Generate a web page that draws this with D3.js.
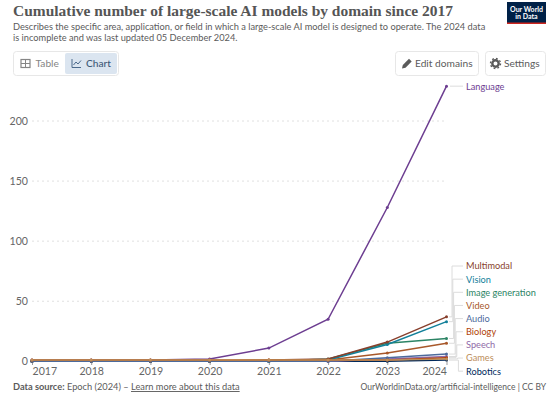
<!DOCTYPE html>
<html>
<head>
<meta charset="utf-8">
<script src="https://cdn.jsdelivr.net/npm/d3@7"></script>
<style>
  html, body { margin: 0; padding: 0; background: #fff; }
  svg { display: block; font-family: Lato, sans-serif; }
</style>
</head>
<body>
<div id="chart"></div>
<script>
const years = [2017, 2018, 2019, 2020, 2021, 2022, 2023, 2024];
const yTicks = [0, 50, 100, 150, 200];

const language = [1, 1, 1, 2, 11, 35, 128, 229];
const multimodal = [0, 0, 0, 0, 1, 2, 16, 37];
const vision = [0, 0, 0, 0, 0, 1, 14, 33];
const imageGeneration = [0, 0, 0, 0, 0, 2, 15, 19];
const video = [0, 0, 0, 0, 0, 1, 7, 15];
const audio = [0, 0, 0, 0, 0, 0, 3, 6];
const biology = [1, 1, 1, 1, 1, 1, 1, 3];
const speech = [0, 0, 0, 0, 0, 0, 2, 4];
const games = [1, 1, 1, 1, 1, 1, 1, 2];
const robotics = [0, 0, 0, 0, 0, 0, 0, 1];

const names = ["Multimodal", "Vision", "Image generation", "Video", "Audio", "Biology", "Speech", "Games", "Robotics"];
const lowSeries = [multimodal, vision, imageGeneration, video, audio, biology, speech, games, robotics];
const colors = ["#883f2c", "#13809a", "#2c8465", "#a8582a", "#4c6a9c", "#b13f07", "#8f6aa8", "#bc8e5a", "#00295b"];
const drawOrder = [8, 6, 3, 2, 1, 0, 4, 5, 7];

const width = 560, height = 394;
const svg = d3.select("#chart").append("svg").attr("width", width).attr("height", height);

// header
svg.append("text").attr("x", 13).attr("y", 16).attr("fill", "#555")
  .style("font-family", "'Liberation Serif', serif").style("font-weight", 700).style("font-size", "15.6px")
  .attr("textLength", 440).attr("lengthAdjust", "spacingAndGlyphs")
  .text("Cumulative number of large-scale AI models by domain since 2017");
["Describes the specific area, application, or field in which a large-scale AI model is designed to operate. The 2024 data",
 "is incomplete and was last updated 05 December 2024."].forEach((t, i) => {
  svg.append("text").attr("x", 13).attr("y", 29.5 + i * 11).attr("fill", "#5b5b5b").style("font-size", "9.25px").text(t);
});

// logo
svg.append("rect").attr("x", 507).attr("y", 2).attr("width", 39).attr("height", 22).attr("fill", "#002147");
svg.append("rect").attr("x", 507).attr("y", 22.5).attr("width", 39).attr("height", 1.5).attr("fill", "#ce261e");
["Our World", "in Data"].forEach((t, i) => {
  svg.append("text").attr("x", 526.5).attr("y", 11.5 + i * 7.5).attr("text-anchor", "middle")
    .attr("fill", "#fff").style("font-size", "7px").style("font-weight", 700).text(t);
});

// buttons
const btn = (x, w) => svg.append("rect").attr("x", x).attr("y", 51.5).attr("width", w).attr("height", 24).attr("rx", 3)
  .attr("fill", "#fff").attr("stroke", "#e7e7e7");
btn(13.5, 105);
svg.append("rect").attr("x", 65).attr("y", 53).attr("width", 52).attr("height", 21).attr("rx", 2).attr("fill", "#dbe5f0");
btn(395.5, 83);
btn(485.5, 60);
// table icon
svg.append("rect").attr("x", 21).attr("y", 59.5).attr("width", 9).attr("height", 8).attr("fill", "none").attr("stroke", "#858585").attr("stroke-width", 1.2);
svg.append("path").attr("d", "M21 63.5H30M25.5 59.5V67.5").attr("stroke", "#858585").attr("fill", "none");
// chart icon
svg.append("path").attr("d", "M72 59V67.5H81M73.5 65L76 62L78 64L81 60.5").attr("stroke", "#4c6a8c").attr("fill", "none");
// pencil icon
svg.append("path").attr("d", "M402 68.5L402.8 65L409 58.8L411.7 61.5L405.5 67.7Z").attr("fill", "#5b5b5b");
// gear icon
svg.append("circle").attr("cx", 495.5).attr("cy", 63.5).attr("r", 3.2).attr("fill", "none").attr("stroke", "#5b5b5b").attr("stroke-width", 2.4);
svg.append("circle").attr("cx", 495.5).attr("cy", 63.5).attr("r", 5).attr("fill", "none").attr("stroke", "#5b5b5b").attr("stroke-width", 1.4).attr("stroke-dasharray", "1.8 2.1");

const btnText = (x, t, c, fw) => svg.append("text").attr("x", x).attr("y", 67).attr("fill", c)
  .style("font-size", "10.2px").style("font-weight", fw || 400).text(t);
btnText(35.5, "Table", "#858585");
btnText(86, "Chart", "#3f5a78", 500);
btnText(415, "Edit domains", "#5b5b5b");
btnText(504, "Settings", "#5b5b5b");

// scales
const x = d3.scaleLinear().domain([2017, 2024]).range([32, 446.5]);
const y = d3.scaleLinear().domain([0, 200]).range([361.3, 121]);

// grid
svg.append("g").selectAll("line").data(yTicks.filter(d => d > 0)).join("line")
  .attr("x1", 32).attr("x2", 447).attr("y1", d => y(d)).attr("y2", d => y(d))
  .attr("stroke", "#e0e0e0").attr("stroke-dasharray", "2 3");
svg.append("g").selectAll("text").data(yTicks).join("text")
  .attr("x", 28).attr("y", d => y(d) + 4).attr("text-anchor", "end")
  .attr("fill", "#666").style("font-size", "10.6px").text(d => d);

// x axis
const xAxis = d3.axisBottom(x).tickValues(years).tickFormat(d3.format("d")).tickSize(4);
const gx = svg.append("g").attr("transform", "translate(0,361)").call(xAxis);
gx.select(".domain").remove();
gx.selectAll("line").attr("stroke", "#999");
gx.selectAll("text").attr("fill", "#666").attr("y", 6).style("font-family", "Lato, sans-serif").style("font-size", "10.6px");
gx.selectAll(".tick text").filter(d => d === 2017).attr("text-anchor", "start");
gx.selectAll(".tick text").filter(d => d === 2024).attr("text-anchor", "end");

const line = d3.line().x((d, i) => x(years[i])).y(d => y(d));

function drawSeries(vals, color, w) {
  svg.append("path").attr("d", line(vals)).attr("fill", "none").attr("stroke", color).attr("stroke-width", w);
  svg.append("g").selectAll("circle").data(vals).join("circle")
    .attr("cx", (d, i) => x(years[i])).attr("cy", d => y(d)).attr("r", 1.5).attr("fill", color);
}

// connector lines go under the marks
const labelX = 466;
const labelTop = 266, labelStep = 13.15;
names.forEach((n, i) => {
  const endY = y(lowSeries[i][7]);
  const labY = labelTop + i * labelStep;
  const midX = 452 + i * 0.8;
  svg.append("path")
    .attr("d", `M449 ${endY}H${midX}V${labY}H463`)
    .attr("fill", "none").attr("stroke", "#dcdcdc").attr("stroke-width", 1);
});
svg.append("path").attr("d", `M450 ${y(language[7])}H463`).attr("stroke", "#dcdcdc").attr("fill", "none");

drawSeries(language, "#6d3e91", 1.5);
drawOrder.forEach(i => drawSeries(lowSeries[i], colors[i], 1.5));

names.forEach((n, i) => {
  svg.append("text").attr("x", labelX).attr("y", labelTop + i * labelStep + 3.4).attr("fill", colors[i])
    .style("font-size", "9.2px").text(n);
});
svg.append("text").attr("x", labelX).attr("y", y(language[7]) + 3.4).attr("fill", "#6d3e91").style("font-size", "9.2px").text("Language");

// footer
const foot = svg.append("text").attr("x", 13).attr("y", 390).attr("fill", "#5b5b5b").style("font-size", "9.25px");
foot.append("tspan").style("font-weight", 700).text("Data source:");
foot.append("tspan").text(" Epoch (2024) – ");
foot.append("tspan").style("text-decoration", "underline").text("Learn more about this data");
svg.append("text").attr("x", 546).attr("y", 390).attr("text-anchor", "end").attr("fill", "#5b5b5b")
  .style("font-size", "8.5px").text("OurWorldinData.org/artificial-intelligence | CC BY");
</script>
</body>
</html>
